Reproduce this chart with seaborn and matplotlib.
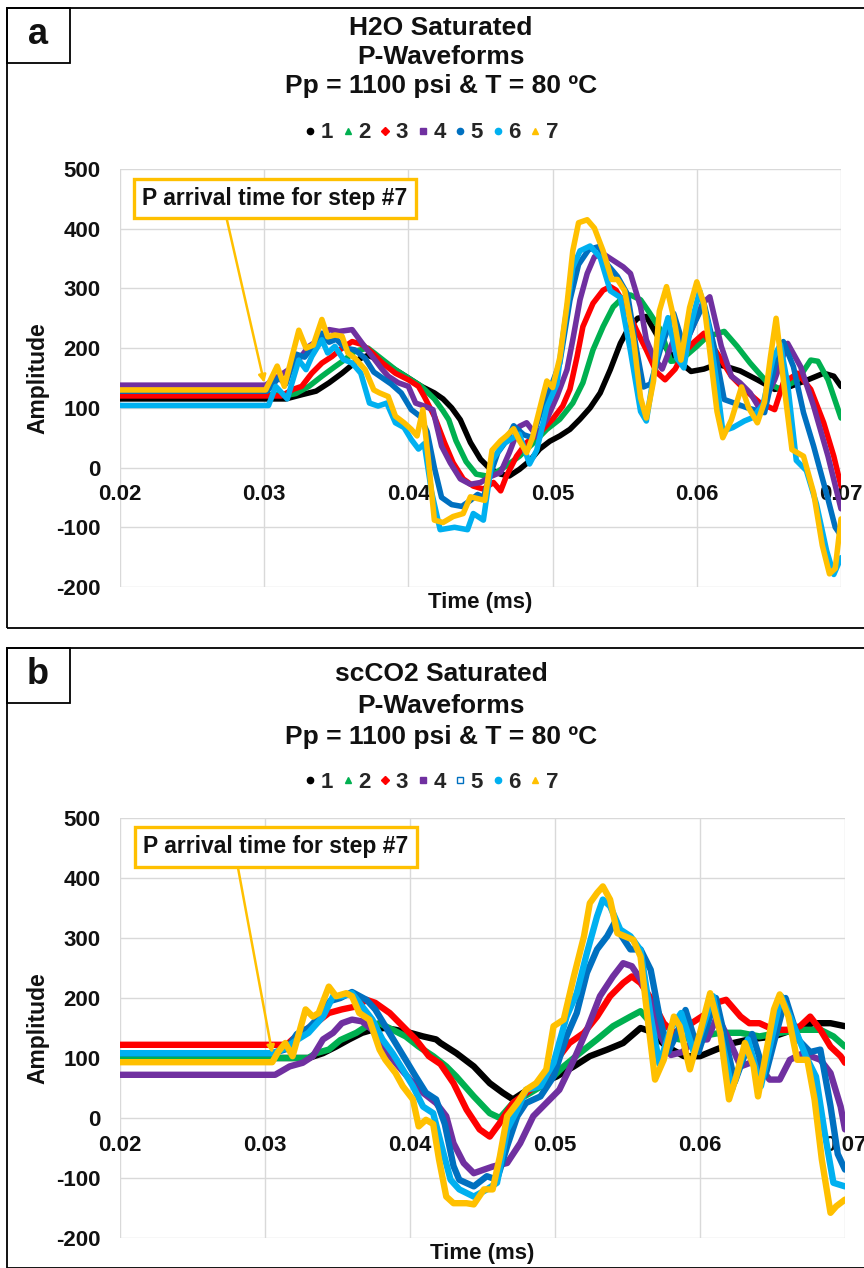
import matplotlib
matplotlib.use("Agg")
import matplotlib.pyplot as plt
from matplotlib.lines import Line2D
from matplotlib.patches import Rectangle
import pandas as pd
import seaborn as sns

sns.set_theme(style="white")
plt.rcParams["font.family"] = ["Liberation Sans", "DejaVu Sans"]
plt.rcParams["font.weight"] = "bold"
plt.rcParams["axes.unicode_minus"] = False
plt.rcParams["lines.solid_joinstyle"] = "round"
plt.rcParams["lines.solid_capstyle"] = "round"

# ---------------------------------------------------------------- data
STEPS = ["1", "2", "3", "4", "5", "6", "7"]
STEP_COLORS = ["#000000", "#00B050", "#FF0000", "#7030A0", "#0070C0", "#00B0F0", "#FFC000"]

XTICKS = [0.02, 0.03, 0.04, 0.05, 0.06, 0.07]
XTICK_LABELS = ["0.02", "0.03", "0.04", "0.05", "0.06", "0.07"]
YTICKS = [-200, -100, 0, 100, 200, 300, 400, 500]

TITLE_A = ["H2O Saturated", "P-Waveforms", "Pp = 1100 psi & T = 80 ºC"]
TITLE_B = ["scCO2 Saturated", "P-Waveforms", "Pp = 1100 psi & T = 80 ºC"]
NOTE = "P arrival time for step #7"

# H2O saturated, (time ms, amplitude) per step
h2o_1 = [(0.0200, 115), (0.0315, 115), (0.0326, 122), (0.0336, 128), (0.0345, 142), (0.0354, 158),
         (0.0360, 170), (0.0366, 182), (0.0372, 188), (0.0380, 180), (0.0388, 168), (0.0398, 153),
         (0.0409, 136), (0.0418, 125), (0.0424, 115), (0.0430, 100), (0.0436, 80), (0.0443, 42),
         (0.0450, 14), (0.0457, -3), (0.0464, -11), (0.0470, -14), (0.0477, -3), (0.0484, 11),
         (0.0491, 31), (0.0498, 44), (0.0505, 53), (0.0512, 64), (0.0519, 81), (0.0526, 100),
         (0.0533, 125), (0.0540, 164), (0.0547, 208), (0.0553, 235), (0.0559, 250), (0.0565, 253),
         (0.0574, 215), (0.0582, 190), (0.0589, 175), (0.0596, 161), (0.0605, 165), (0.0614, 173),
         (0.0622, 168), (0.0630, 162), (0.0642, 147), (0.0654, 131), (0.0665, 136), (0.0677, 147),
         (0.0688, 158), (0.0695, 153), (0.0700, 136)]
h2o_2 = [(0.0200, 122), (0.0318, 122), (0.0322, 124), (0.0331, 136), (0.0340, 153), (0.0349, 169),
         (0.0356, 181), (0.0363, 195), (0.0372, 200), (0.0382, 181), (0.0391, 164), (0.0400, 150),
         (0.0409, 136), (0.0418, 115), (0.0424, 95), (0.0428, 80), (0.0433, 45), (0.0440, 10),
         (0.0447, -11), (0.0454, -14), (0.0461, -8), (0.0468, 3), (0.0477, 19), (0.0487, 42),
         (0.0496, 64), (0.0505, 81), (0.0514, 108), (0.0521, 142), (0.0528, 197), (0.0535, 236),
         (0.0542, 269), (0.0548, 283), (0.0554, 289), (0.0561, 281), (0.0567, 260), (0.0575, 230),
         (0.0582, 178), (0.0589, 180), (0.0600, 203), (0.0607, 219), (0.0619, 228), (0.0628, 203),
         (0.0637, 175), (0.0649, 142), (0.0658, 131), (0.0670, 147), (0.0679, 180), (0.0684, 178),
         (0.0691, 147), (0.0700, 83)]
h2o_3 = [(0.0200, 120), (0.0312, 120), (0.0320, 131), (0.0326, 136), (0.0333, 158), (0.0340, 175),
         (0.0347, 186), (0.0354, 200), (0.0361, 211), (0.0368, 206), (0.0375, 192), (0.0382, 175),
         (0.0391, 158), (0.0400, 147), (0.0407, 136), (0.0411, 119), (0.0418, 86), (0.0425, 42),
         (0.0431, 8), (0.0438, -19), (0.0445, -31), (0.0452, -36), (0.0459, -25), (0.0464, -39),
         (0.0468, -14), (0.0475, 19), (0.0482, 42), (0.0491, 58), (0.0500, 81), (0.0507, 103),
         (0.0512, 131), (0.0517, 186), (0.0521, 236), (0.0528, 275), (0.0535, 297), (0.0540, 303),
         (0.0544, 297), (0.0551, 269), (0.0558, 231), (0.0565, 197), (0.0572, 160), (0.0578, 147),
         (0.0585, 165), (0.0591, 192), (0.0598, 210), (0.0605, 225), (0.0614, 192), (0.0624, 153),
         (0.0633, 131), (0.0644, 108), (0.0654, 97), (0.0660, 142), (0.0670, 158), (0.0679, 131),
         (0.0688, 75), (0.0695, 19), (0.0700, -31)]
h2o_4 = [(0.0200, 138), (0.0301, 138), (0.0310, 153), (0.0317, 164), (0.0324, 181), (0.0331, 203),
         (0.0338, 214), (0.0345, 231), (0.0352, 228), (0.0361, 231), (0.0368, 208), (0.0375, 186),
         (0.0382, 164), (0.0386, 153), (0.0393, 142), (0.0400, 136), (0.0405, 108), (0.0411, 103),
         (0.0417, 97), (0.0423, 36), (0.0429, 8), (0.0436, -19), (0.0443, -28), (0.0450, -25),
         (0.0457, -15), (0.0464, -8), (0.0470, 25), (0.0477, 69), (0.0482, 75), (0.0489, 53),
         (0.0496, 81), (0.0503, 119), (0.0510, 164), (0.0514, 214), (0.0519, 281), (0.0524, 325),
         (0.0529, 353), (0.0535, 358), (0.0542, 347), (0.0549, 336), (0.0554, 325), (0.0561, 269),
         (0.0565, 214), (0.0570, 185), (0.0576, 165), (0.0584, 215), (0.0591, 200), (0.0598, 240),
         (0.0604, 275), (0.0609, 286), (0.0617, 203), (0.0624, 153), (0.0630, 142), (0.0637, 125),
         (0.0644, 97), (0.0654, 147), (0.0663, 208), (0.0672, 169), (0.0681, 103), (0.0691, 19),
         (0.0700, -69)]
h2o_5 = [(0.0200, 128), (0.0302, 128), (0.0310, 150), (0.0315, 140), (0.0322, 190), (0.0328, 185),
         (0.0333, 200), (0.0340, 225), (0.0345, 210), (0.0350, 215), (0.0356, 200), (0.0363, 197),
         (0.0370, 183), (0.0376, 160), (0.0382, 150), (0.0388, 140), (0.0395, 125), (0.0402, 97),
         (0.0408, 86), (0.0413, 60), (0.0418, 0), (0.0423, -50), (0.0430, -62), (0.0437, -65),
         (0.0443, -55), (0.0448, -45), (0.0452, -50), (0.0457, -10), (0.0462, 25), (0.0468, 45),
         (0.0473, 70), (0.0480, 55), (0.0486, 50), (0.0492, 95), (0.0498, 130), (0.0505, 175),
         (0.0512, 280), (0.0518, 340), (0.0525, 365), (0.0532, 370), (0.0538, 340), (0.0545, 320),
         (0.0552, 290), (0.0558, 200), (0.0563, 135), (0.0568, 140), (0.0575, 200), (0.0584, 258),
         (0.0591, 203), (0.0598, 240), (0.0605, 275), (0.0612, 203), (0.0619, 114), (0.0626, 108),
         (0.0635, 100), (0.0647, 92), (0.0656, 192), (0.0660, 211), (0.0667, 169), (0.0674, 92),
         (0.0681, 36), (0.0691, -53), (0.0696, -100), (0.0700, -114)]
h2o_6 = [(0.0200, 104), (0.0303, 104), (0.0308, 136), (0.0316, 115), (0.0324, 180), (0.0329, 164),
         (0.0333, 186), (0.0340, 214), (0.0344, 192), (0.0349, 203), (0.0355, 181), (0.0361, 175),
         (0.0367, 158), (0.0373, 108), (0.0379, 103), (0.0385, 108), (0.0391, 75), (0.0397, 67),
         (0.0402, 47), (0.0407, 31), (0.0411, 40), (0.0416, -40), (0.0422, -104), (0.0432, -100),
         (0.0441, -104), (0.0445, -77), (0.0452, -88), (0.0458, 12), (0.0466, 40), (0.0477, 56),
         (0.0484, 6), (0.0489, 29), (0.0496, 101), (0.0503, 140), (0.0507, 217), (0.0514, 335),
         (0.0519, 363), (0.0526, 371), (0.0533, 352), (0.0540, 296), (0.0547, 285), (0.0554, 195),
         (0.0561, 94), (0.0565, 78), (0.0572, 184), (0.0580, 251), (0.0586, 184), (0.0591, 167),
         (0.0596, 240), (0.0602, 296), (0.0608, 240), (0.0614, 140), (0.0618, 61), (0.0625, 67),
         (0.0633, 78), (0.0639, 84), (0.0646, 106), (0.0653, 184), (0.0658, 206), (0.0663, 140),
         (0.0669, 12), (0.0676, -5), (0.0683, -61), (0.0690, -139), (0.0695, -179), (0.0700, -151)]
h2o_7 = [(0.0200, 130), (0.0301, 130), (0.0309, 170), (0.0314, 136), (0.0324, 230), (0.0329, 200),
         (0.0334, 205), (0.0340, 248), (0.0344, 219), (0.0349, 222), (0.0354, 220), (0.0358, 192),
         (0.0363, 183), (0.0370, 164), (0.0376, 130), (0.0380, 125), (0.0386, 119), (0.0391, 86),
         (0.0397, 75), (0.0402, 64), (0.0406, 53), (0.0410, 97), (0.0414, 10), (0.0418, -88),
         (0.0424, -92), (0.0431, -82), (0.0438, -77), (0.0443, -49), (0.0448, -52), (0.0453, -55),
         (0.0458, 29), (0.0464, 45), (0.0468, 53), (0.0473, 65), (0.0477, 45), (0.0482, 25),
         (0.0486, 50), (0.0493, 117), (0.0496, 145), (0.0500, 134), (0.0505, 184), (0.0510, 274),
         (0.0514, 363), (0.0518, 410), (0.0524, 415), (0.0529, 401), (0.0535, 363), (0.0541, 315),
         (0.0545, 315), (0.0550, 296), (0.0556, 217), (0.0561, 117), (0.0565, 83), (0.0570, 145),
         (0.0574, 262), (0.0579, 303), (0.0584, 251), (0.0589, 180), (0.0595, 268), (0.0600, 311),
         (0.0605, 274), (0.0609, 195), (0.0614, 94), (0.0618, 50), (0.0624, 80), (0.0631, 135),
         (0.0636, 100), (0.0642, 75), (0.0647, 110), (0.0651, 184), (0.0655, 250), (0.0660, 147),
         (0.0666, 30), (0.0674, 19), (0.0681, -42), (0.0687, -130), (0.0692, -178), (0.0696, -169),
         (0.0700, -86)]

# scCO2 saturated, (time ms, amplitude) per step
co2_1 = [(0.0200, 100), (0.0330, 100), (0.0340, 108), (0.0349, 119), (0.0358, 131), (0.0367, 142),
         (0.0374, 147), (0.0382, 150), (0.0390, 147), (0.0400, 142), (0.0409, 136), (0.0418, 131),
         (0.0421, 125), (0.0432, 108), (0.0444, 86), (0.0455, 58), (0.0464, 42), (0.0471, 31),
         (0.0478, 42), (0.0490, 58), (0.0501, 69), (0.0513, 86), (0.0524, 103), (0.0536, 114),
         (0.0547, 125), (0.0559, 150), (0.0565, 145), (0.0577, 119), (0.0589, 103), (0.0600, 103),
         (0.0611, 114), (0.0623, 125), (0.0634, 131), (0.0651, 136), (0.0664, 147), (0.0678, 158),
         (0.0690, 158), (0.0700, 153)]
co2_2 = [(0.0200, 100), (0.0330, 100), (0.0335, 108), (0.0344, 114), (0.0352, 130), (0.0363, 142),
         (0.0370, 153), (0.0379, 158), (0.0388, 147), (0.0397, 136), (0.0406, 119), (0.0416, 103),
         (0.0425, 86), (0.0432, 69), (0.0444, 36), (0.0455, 8), (0.0462, 0), (0.0471, 25),
         (0.0483, 42), (0.0494, 58), (0.0506, 86), (0.0517, 108), (0.0529, 131), (0.0540, 153),
         (0.0552, 169), (0.0559, 178), (0.0568, 153), (0.0577, 136), (0.0586, 131), (0.0600, 136),
         (0.0614, 142), (0.0628, 142), (0.0641, 136), (0.0655, 142), (0.0669, 147), (0.0683, 147),
         (0.0692, 136), (0.0700, 119)]
co2_3 = [(0.0200, 122), (0.0315, 122), (0.0319, 131), (0.0328, 147), (0.0335, 158), (0.0344, 175),
         (0.0353, 181), (0.0363, 186), (0.0370, 197), (0.0376, 192), (0.0386, 175), (0.0395, 153),
         (0.0404, 131), (0.0413, 103), (0.0421, 90), (0.0430, 58), (0.0439, 14), (0.0448, -19),
         (0.0455, -31), (0.0462, -8), (0.0471, 25), (0.0483, 47), (0.0494, 69), (0.0503, 103),
         (0.0510, 125), (0.0520, 142), (0.0529, 169), (0.0538, 203), (0.0547, 225), (0.0553, 236),
         (0.0559, 225), (0.0566, 200), (0.0575, 158), (0.0582, 142), (0.0591, 153), (0.0598, 164),
         (0.0605, 175), (0.0611, 192), (0.0618, 197), (0.0628, 169), (0.0634, 158), (0.0641, 158),
         (0.0651, 147), (0.0660, 147), (0.0669, 153), (0.0676, 169), (0.0683, 147), (0.0690, 119),
         (0.0697, 103), (0.0700, 92)]
co2_4 = [(0.0200, 72), (0.0307, 72), (0.0317, 86), (0.0326, 92), (0.0333, 103), (0.0340, 131),
         (0.0347, 142), (0.0353, 158), (0.0360, 164), (0.0367, 161), (0.0374, 147), (0.0381, 119),
         (0.0390, 92), (0.0400, 64), (0.0409, 42), (0.0418, 25), (0.0425, 3), (0.0430, -42),
         (0.0437, -75), (0.0444, -92), (0.0451, -86), (0.0457, -81), (0.0467, -75), (0.0476, -42),
         (0.0485, 3), (0.0494, 25), (0.0503, 47), (0.0513, 97), (0.0522, 147), (0.0531, 203),
         (0.0540, 236), (0.0547, 258), (0.0553, 253), (0.0559, 231), (0.0566, 192), (0.0572, 140),
         (0.0580, 105), (0.0588, 110), (0.0596, 130), (0.0605, 131), (0.0612, 170), (0.0620, 130),
         (0.0628, 86), (0.0638, 95), (0.0648, 64), (0.0655, 64), (0.0662, 97), (0.0671, 108),
         (0.0683, 97), (0.0690, 75), (0.0697, 19), (0.0700, -19)]
co2_5 = [(0.0200, 108), (0.0305, 108), (0.0315, 115), (0.0322, 140), (0.0330, 150), (0.0338, 170),
         (0.0345, 195), (0.0352, 200), (0.0360, 210), (0.0370, 197), (0.0376, 181), (0.0383, 153),
         (0.0390, 125), (0.0397, 97), (0.0404, 69), (0.0411, 42), (0.0418, 31), (0.0424, -10),
         (0.0430, -80), (0.0434, -103), (0.0444, -114), (0.0453, -97), (0.0460, -103), (0.0467, -47),
         (0.0474, 3), (0.0480, 25), (0.0490, 36), (0.0499, 69), (0.0508, 136), (0.0515, 175),
         (0.0522, 242), (0.0529, 281), (0.0536, 303), (0.0541, 325), (0.0546, 303), (0.0552, 281),
         (0.0559, 281), (0.0566, 247), (0.0572, 170), (0.0578, 110), (0.0584, 140), (0.0590, 180),
         (0.0599, 110), (0.0611, 200), (0.0624, 60), (0.0636, 140), (0.0645, 70), (0.0659, 200),
         (0.0668, 130), (0.0676, 110), (0.0683, 114), (0.0690, 20), (0.0695, -60), (0.0700, -86)]
co2_6 = [(0.0200, 108), (0.0305, 108), (0.0313, 115), (0.0322, 130), (0.0330, 142), (0.0340, 169),
         (0.0347, 203), (0.0353, 203), (0.0360, 208), (0.0367, 186), (0.0374, 164), (0.0381, 131),
         (0.0388, 108), (0.0395, 81), (0.0402, 53), (0.0409, 19), (0.0416, 8), (0.0423, -58),
         (0.0428, -103), (0.0434, -119), (0.0444, -131), (0.0453, -119), (0.0460, -108), (0.0467, -19),
         (0.0474, 14), (0.0480, 47), (0.0490, 53), (0.0499, 92), (0.0508, 169), (0.0515, 208),
         (0.0522, 275), (0.0529, 336), (0.0533, 364), (0.0538, 353), (0.0545, 314), (0.0552, 303),
         (0.0559, 280), (0.0566, 169), (0.0572, 90), (0.0580, 150), (0.0587, 175), (0.0596, 108),
         (0.0609, 203), (0.0622, 47), (0.0633, 131), (0.0642, 53), (0.0656, 203), (0.0664, 158),
         (0.0673, 103), (0.0680, 69), (0.0686, -25), (0.0692, -108), (0.0700, -114)]
co2_7 = [(0.0200, 93), (0.0305, 93), (0.0309, 110), (0.0314, 125), (0.0319, 103), (0.0328, 181),
         (0.0333, 169), (0.0337, 175), (0.0344, 219), (0.0349, 203), (0.0356, 208), (0.0360, 203),
         (0.0365, 175), (0.0372, 164), (0.0379, 114), (0.0383, 97), (0.0390, 75), (0.0395, 53),
         (0.0402, 31), (0.0406, -14), (0.0411, -3), (0.0416, -10), (0.0420, -69), (0.0425, -131),
         (0.0430, -142), (0.0439, -142), (0.0444, -144), (0.0451, -119), (0.0457, -119), (0.0462, -64),
         (0.0467, 3), (0.0474, 25), (0.0480, 47), (0.0487, 58), (0.0494, 81), (0.0499, 153),
         (0.0506, 164), (0.0513, 236), (0.0520, 303), (0.0524, 358), (0.0529, 375), (0.0533, 386),
         (0.0538, 364), (0.0543, 308), (0.0548, 303), (0.0554, 297), (0.0559, 269), (0.0564, 164),
         (0.0569, 64), (0.0575, 97), (0.0582, 169), (0.0586, 153), (0.0593, 81), (0.0600, 142),
         (0.0607, 208), (0.0614, 142), (0.0620, 31), (0.0625, 69), (0.0631, 125), (0.0637, 86),
         (0.0640, 36), (0.0646, 114), (0.0651, 181), (0.0655, 206), (0.0661, 169), (0.0667, 97),
         (0.0674, 97), (0.0679, 31), (0.0684, -69), (0.0690, -158), (0.0694, -147), (0.0700, -136)]

# arrow target: first motion of step 7 (time ms, amplitude)
h2o_arrival = (0.0300, 142)
co2_arrival = (0.0305, 108)

# ---------------------------------------------------------------- figure
W, H = 864, 1268
fig = plt.figure(figsize=(W / 100, H / 100), dpi=100)
fig.patch.set_facecolor("white")
INK = "#111111"


def fx(px):
    return px / W


def fy(py):
    return 1 - py / H


def to_frame(series):
    parts = []
    for step, pts in zip(STEPS, series):
        t, a = zip(*pts)
        parts.append(pd.DataFrame({"Time (ms)": t, "Amplitude": a, "step": step}))
    return pd.concat(parts, ignore_index=True)


def draw_panel(rect, series, letter, titles, panel_top, title_ys, legend_y,
               markers, note_xy, note_rel, arrival, label_dx, label_dy, lw):
    # outer frame and letter box
    fig.add_artist(Rectangle((fx(7), fy(panel_top + 620)), fx(870), 620 / H,
                             transform=fig.transFigure, fill=False, ec="black", lw=1.3))
    fig.add_artist(Rectangle((fx(7), fy(panel_top + 55)), fx(63), 55 / H,
                             transform=fig.transFigure, fill=False, ec="black", lw=1.3))
    fig.text(fx(38), fy(panel_top + 27), letter, ha="center", va="center",
             fontsize=26, weight="bold", color=INK)

    for txt, y in zip(titles, title_ys):
        fig.text(fx(441), fy(y), txt, ha="center", va="center", fontsize=19,
                 weight="bold", color=INK)

    ax = fig.add_axes(rect)
    df = to_frame(series)
    sns.lineplot(data=df, x="Time (ms)", y="Amplitude", hue="step", hue_order=STEPS,
                 palette=STEP_COLORS, sort=False, estimator=None, lw=lw,
                 legend=False, ax=ax)

    ax.set_xlim(0.02, 0.07)
    ax.set_ylim(-200, 500)
    ax.set_xticks(XTICKS)
    ax.set_xticklabels(XTICK_LABELS)
    ax.set_yticks(YTICKS)
    ax.grid(True, color="#D9D9D9", lw=1.0)
    ax.set_axisbelow(True)
    for sp in ax.spines.values():
        sp.set_visible(False)
    ax.spines["bottom"].set_position(("data", 0))
    ax.tick_params(axis="x", length=0, pad=12, labelsize=16, labelcolor=INK)
    ax.tick_params(axis="y", length=0, pad=14, labelsize=16, labelcolor=INK)

    ax.set_xlabel("Time (ms)", fontsize=16, weight="bold", color=INK)
    ax.set_ylabel("Amplitude", fontsize=16.5, weight="bold", color=INK)
    ax.xaxis.set_label_coords(0.5, label_dy)
    ax.xaxis.label.set_va("center")
    ax.yaxis.set_label_coords(label_dx, 0.5)
    ax.yaxis.label.set_va("center")

    ax.annotate(NOTE, xy=arrival, xytext=note_xy, textcoords="data",
                ha="center", va="center", fontsize=16.5, weight="bold", color=INK,
                bbox=dict(boxstyle="square,pad=0.36", fc="white", ec="#FFC000", lw=2.4),
                arrowprops=dict(arrowstyle="-|>", color="#FFC000", lw=1.8,
                                mutation_scale=11, relpos=note_rel, shrinkA=0, shrinkB=0))

    handles = []
    for c, (m, hollow) in zip(STEP_COLORS, markers):
        handles.append(Line2D([], [], ls="none", marker=m, color=c, markersize=4.5,
                              markeredgewidth=1.0,
                              markerfacecolor="white" if hollow else c))
    fig.legend(handles, STEPS, loc="center", bbox_to_anchor=(fx(432), fy(legend_y)),
               ncol=7, frameon=False, fontsize=16, handlelength=0.4, handletextpad=0.28,
               columnspacing=0.45, borderpad=0, borderaxespad=0, numpoints=1)
    return ax


markers_a = [("o", False), ("^", False), ("D", False), ("s", False),
             ("o", False), ("o", False), ("^", False)]
markers_b = [("o", False), ("^", False), ("D", False), ("s", False),
             ("s", True), ("o", False), ("^", False)]

draw_panel([fx(120), fy(587), fx(721), 418 / H],
           [h2o_1, h2o_2, h2o_3, h2o_4, h2o_5, h2o_6, h2o_7],
           "a", TITLE_A, 8, [28, 57, 86], 133, markers_a,
           (0.03075, 451), (0.31, 0.0), h2o_arrival, -0.114, -0.038, 4.0)

draw_panel([fx(120), fy(1238), fx(725), 420 / H],
           [co2_1, co2_2, co2_3, co2_4, co2_5, co2_6, co2_7],
           "b", TITLE_B, 648, [674, 706, 737], 782, markers_b,
           (0.03076, 452), (0.35, 0.0), co2_arrival, -0.113, -0.038, 4.6)

fig.savefig("out.png", dpi=100, facecolor="white")
